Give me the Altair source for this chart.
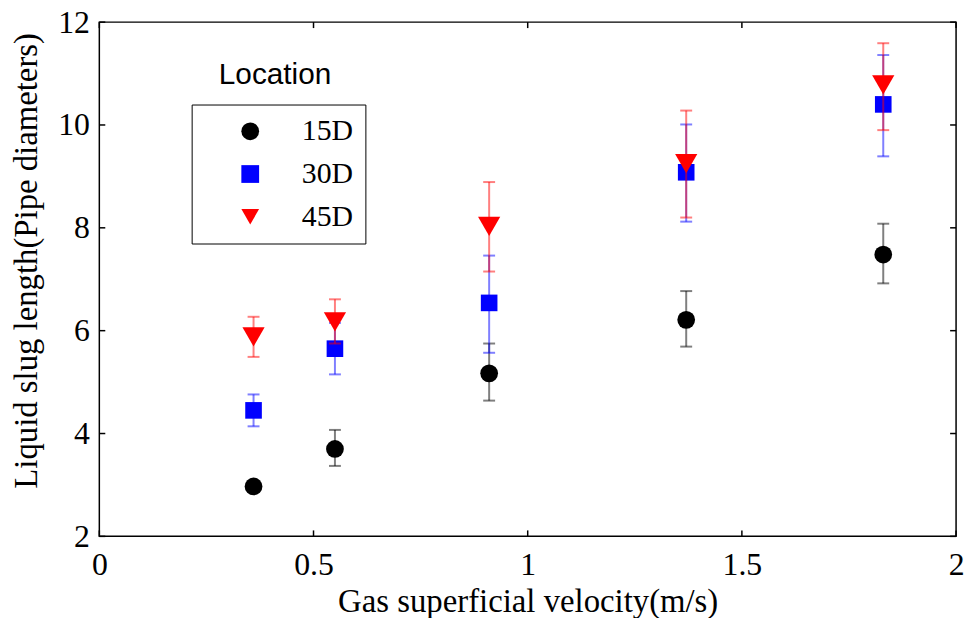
import altair as alt
import pandas as pd

# ---- data ----
velocity = [0.36, 0.55, 0.91, 1.37, 1.83]
locations = ["15D", "30D", "45D"]
colors = ["#000000", "#0000ff", "#ff0000"]
shapes = ["circle", "square", "triangle-down"]
marker_sizes = [320, 280, 500]

slug_15D = [2.97, 3.70, 5.17, 6.21, 7.48]
low_15D = [2.90, 3.37, 4.64, 5.69, 6.92]
high_15D = [3.05, 4.07, 5.75, 6.77, 8.08]

slug_30D = [4.45, 5.65, 6.54, 9.08, 10.40]
low_30D = [4.14, 5.15, 5.57, 8.12, 9.39]
high_30D = [4.76, 6.15, 7.46, 10.01, 11.36]

slug_45D = [5.88, 6.17, 8.03, 9.25, 10.78]
low_45D = [5.49, 5.75, 7.15, 8.20, 9.90]
high_45D = [6.27, 6.61, 8.89, 10.28, 11.59]

x_ticks = [0, 0.5, 1, 1.5, 2]
y_ticks = [2, 4, 6, 8, 10, 12]

series = {
    "15D": (slug_15D, low_15D, high_15D),
    "30D": (slug_30D, low_30D, high_30D),
    "45D": (slug_45D, low_45D, high_45D),
}

rows = []
for loc in locations:
    ys, lo, hi = series[loc]
    for xv, yv, l, h in zip(velocity, ys, lo, hi):
        rows.append({"v": xv, "L": yv, "lo": l, "hi": h, "loc": loc})
df = pd.DataFrame(rows)

W, H = 863, 518
SERIF = "Liberation Serif"

xscale = alt.Scale(domain=[0, 2], nice=False, zero=False)
yscale = alt.Scale(domain=[2, 12], nice=False, zero=False)

xaxis = alt.Axis(values=x_ticks, format="~g", ticks=False, domain=False, grid=False,
                 labelFont=SERIF, labelFontSize=32, labelColor="black",
                 labelPadding=13, title="Gas superficial velocity(m/s)",
                 titleFont=SERIF, titleFontSize=33, titleFontWeight="normal",
                 titleColor="black", titlePadding=6, labelFlush=False)
yaxis = alt.Axis(values=y_ticks, format="~g", ticks=False, domain=False, grid=False,
                 labelFont=SERIF, labelFontSize=32, labelColor="black",
                 labelPadding=10, title="Liquid slug length(Pipe diameters)",
                 titleFont=SERIF, titleFontSize=33, titleFontWeight="normal",
                 titleColor="black", titlePadding=14, titleY=240, labelFlush=False)

legend = alt.Legend(orient="none", legendX=93, legendY=83, title=None,
                    strokeColor="black", fillColor="white", padding=12,
                    labelFont=SERIF, labelFontSize=30, labelColor="black",
                    symbolSize=320, symbolStrokeWidth=0, symbolOffset=32,
                    labelOffset=37, rowPadding=13, symbolOpacity=1)

color_enc = alt.Color("loc:N", scale=alt.Scale(domain=locations, range=colors), legend=legend)
shape_enc = alt.Shape("loc:N", scale=alt.Scale(domain=locations, range=shapes), legend=legend)

base = alt.Chart(df)
layers = []
for loc, col, msize in zip(locations, colors, marker_sizes):
    sub = base.transform_filter(alt.datum.loc == loc)
    pts = sub.mark_point(filled=True, size=msize, opacity=1, strokeWidth=0).encode(
        x=alt.X("v:Q", scale=xscale, axis=xaxis),
        y=alt.Y("L:Q", scale=yscale, axis=yaxis),
        color=color_enc, shape=shape_enc,
    )
    bar = sub.mark_rule(strokeWidth=2, opacity=0.5, color=col).encode(
        x="v:Q", y="lo:Q", y2="hi:Q")
    cap_lo = sub.mark_tick(orient="horizontal", size=12, thickness=2, opacity=0.5, color=col).encode(
        x="v:Q", y="lo:Q")
    cap_hi = sub.mark_tick(orient="horizontal", size=12, thickness=2, opacity=0.5, color=col).encode(
        x="v:Q", y="hi:Q")
    layers += [pts, bar, cap_lo, cap_hi]

xt = pd.DataFrame({"t": x_ticks})
yt = pd.DataFrame({"t": y_ticks})
tick_style = dict(color="black", strokeWidth=1.5)
ticks = [
    alt.Chart(xt).mark_rule(**tick_style).encode(x=alt.X("t:Q", scale=xscale), y=alt.value(H), y2=alt.value(H - 6)),
    alt.Chart(xt).mark_rule(**tick_style).encode(x=alt.X("t:Q", scale=xscale), y=alt.value(0), y2=alt.value(6)),
    alt.Chart(yt).mark_rule(**tick_style).encode(y=alt.Y("t:Q", scale=yscale), x=alt.value(0), x2=alt.value(6)),
    alt.Chart(yt).mark_rule(**tick_style).encode(y=alt.Y("t:Q", scale=yscale), x=alt.value(W), x2=alt.value(W - 6)),
]

title_txt = alt.Chart(pd.DataFrame({"t": ["Location"]})).mark_text(
    font="Liberation Sans", fontSize=30, color="black", align="center", baseline="middle"
).encode(text="t:N", x=alt.value(177), y=alt.value(53))

chart = alt.layer(*layers, *ticks, title_txt).properties(
    width=W, height=H,
    autosize=alt.AutoSizeParams(type="none"),
    padding={"left": 92, "top": 12, "right": 10, "bottom": 80},
    background="white",
).configure_view(stroke="black", strokeWidth=1.5)

chart.save("out.html", embed_options={"renderer": "svg", "actions": False})
